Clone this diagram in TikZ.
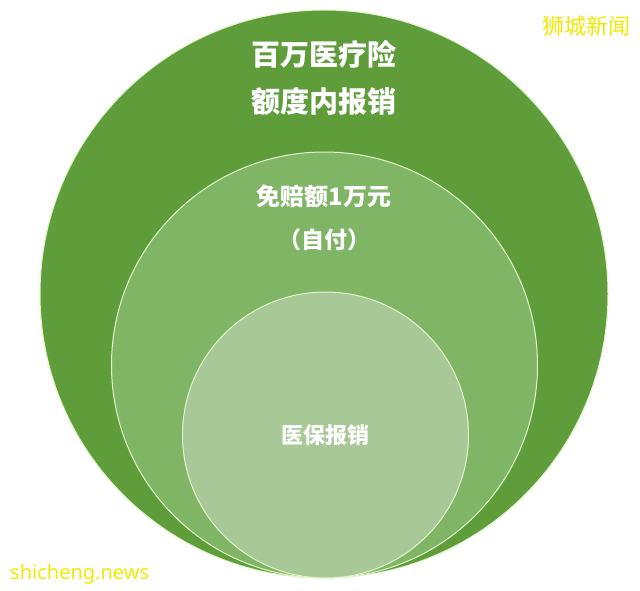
\documentclass[tikz,border=0pt]{standalone}
\usepackage{fontspec}
\usepackage{xcolor}
\usetikzlibrary{positioning}
\newfontfamily\cjk{Noto Sans CJK SC}
\newfontfamily\wmfont{Noto Sans}
\definecolor{outergreen}{HTML}{5F9D3B}
\definecolor{midgreen}{HTML}{80B565}
\definecolor{innergreen}{HTML}{A9C898}
\definecolor{rimgreen}{HTML}{E2F5CB}
\definecolor{markyellow}{HTML}{F0EA00}

\begin{document}
\begin{tikzpicture}[x=1pt, y=-1pt, ring/.style={circle,draw=rimgreen,line width=1pt,inner sep=0pt},label text/.style={text=white,font=\cjk\bfseries}]
\useasboundingbox (0,0) rectangle (640,591);
\begin{scope}
\node[ring, fill=outergreen, minimum size=568pt] (outer) at (324,294) {};
\node[ring, fill=midgreen, minimum size=426pt] (middle) at (324.5,365) {};
\node[ring, fill=innergreen, minimum size=286pt] (inner) at (325.5,435) {};
\end{scope}
\begin{scope}[every node/.style={label text}]
\node[font=\cjk\bfseries\fontsize{29}{32}\selectfont] (quota1) at (324,54) {百万医疗险};
\node[font=\cjk\bfseries\fontsize{29}{32}\selectfont] (quota2) at (324,101) {额度内报销};
\node[font=\cjk\bfseries\fontsize{24}{28}\selectfont] (deduct1) at (324,196) {免赔额1万元};
\node[font=\cjk\bfseries\fontsize{23}{28}\selectfont] (deduct2) at (324,240) {（自付）};
\node[font=\cjk\bfseries\fontsize{22}{26}\selectfont] (social) at (325,435) {医保报销};
\end{scope}
% watermarks
\node[text=markyellow, font=\cjk\fontsize{22}{24}\selectfont] (mark1) at (586,26) {狮城新闻};
\node[text=markyellow, font=\wmfont\fontsize{20}{22}\selectfont, anchor=west, inner sep=0pt] (mark2) at (10,574) {shicheng.news};
\end{tikzpicture}
\end{document}
